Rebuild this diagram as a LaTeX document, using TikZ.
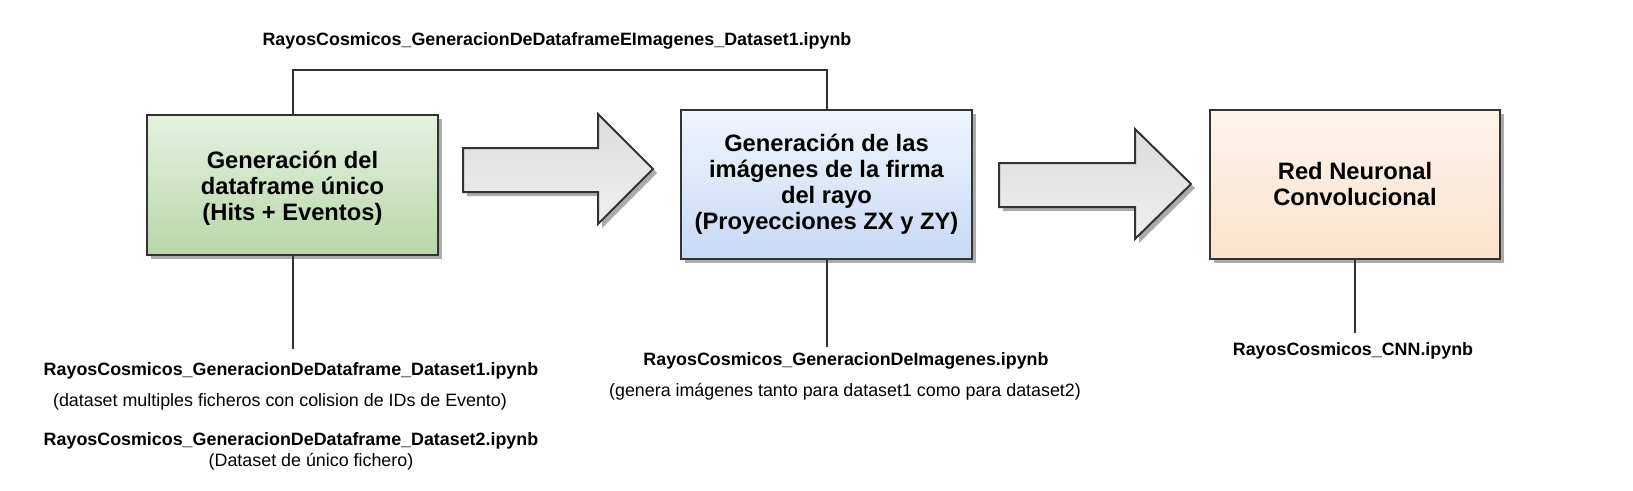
\documentclass[tikz,border=0pt]{standalone}
\usepackage{fontspec}
\setmainfont{Liberation Sans}
\usetikzlibrary{shadows}
\definecolor{ln}{HTML}{333333}
\definecolor{gTop}{HTML}{E6F1E0}
\definecolor{gBot}{HTML}{B7D7A8}
\definecolor{bTop}{HTML}{F0F5FD}
\definecolor{bBot}{HTML}{C7D9F5}
\definecolor{oTop}{HTML}{FDF4EC}
\definecolor{oBot}{HTML}{FBE2CA}
\definecolor{aTop}{HTML}{DCDCDC}
\definecolor{aBot}{HTML}{EFEFEF}
\definecolor{shd}{HTML}{ABABAB}
\begin{document}
\begin{tikzpicture}[x=0.75pt,y=-0.75pt,
  shadowed/.style={drop shadow={shadow xshift=3pt, shadow yshift=-3pt, fill=shd, opacity=1}},
  box/.style={shadowed, rectangle, draw=ln, line width=1.5pt, align=center, inner sep=0pt,
    font=\fontsize{17.8}{19.5}\selectfont\bfseries},
  greenbox/.style={box, top color=gTop, bottom color=gBot},
  bluebox/.style={box, top color=bTop, bottom color=bBot},
  orangebox/.style={box, top color=oTop, bottom color=oBot},
  bigarrow/.style={shadowed, draw=ln, line width=1.5pt, line join=miter, top color=aTop, bottom color=aBot},
  conn/.style={draw=ln, line width=1.5pt},
  fname/.style={inner sep=0pt, font=\fontsize{13.4}{16}\selectfont\bfseries},
  note/.style={inner sep=0pt, font=\fontsize{13.4}{16}\selectfont}
]
\useasboundingbox (0,0) rectangle (1633,490);

% boxes
\node[greenbox, minimum width=218.25pt, minimum height=105pt] (b1) at (292.5,185)
  {\rule{0pt}{17.5pt}Generación del\\dataframe único\\(Hits + Eventos)};
\node[bluebox, minimum width=218.25pt, minimum height=111.75pt] (b2) at (826.5,184.5)
  {Generación de las\\imágenes de la firma\\del rayo\\(Proyecciones ZX y ZY)};
\node[orangebox, minimum width=217.5pt, minimum height=111.75pt] (b3) at (1355,184.5)
  {Red Neuronal\\Convolucional};

% big arrows
\draw[bigarrow] (463,148) -- (598,148) -- (598,114) -- (653,169) -- (598,224) -- (598,192) -- (463,192) -- cycle;
\draw[bigarrow] (999,163) -- (1135,163) -- (1135,129) -- (1191,184) -- (1135,239) -- (1135,207) -- (999,207) -- cycle;

% top connector
\coordinate (tl) at (292.5,70);
\draw[conn] (b1.north) -- (b1.north |- tl) -| (b2.north);
\node[fname] (t0) at (557,41) {RayosCosmicos\_GeneracionDeDataframeEImagenes\_Dataset1.ipynb};

% bottom connectors
\coordinate (e1) at (292.5,349);
\coordinate (e2) at (826.5,347);
\coordinate (e3) at (1355,333);
\draw[conn] (b1.south) -- (e1);
\draw[conn] (b2.south) -- (e2);
\draw[conn] (b3.south) -- (e3);

% labels
\node[fname] (l1a) at (291,371) {RayosCosmicos\_GeneracionDeDataframe\_Dataset1.ipynb};
\node[note]  (l1b) at (280,402) {(dataset multiples ficheros con colision de IDs de Evento)};
\node[fname] (l1c) at (291,441) {RayosCosmicos\_GeneracionDeDataframe\_Dataset2.ipynb};
\node[note]  (l1d) at (311,462) {(Dataset de único fichero)};
\node[fname] (l2a) at (846,361) {RayosCosmicos\_GeneracionDeImagenes.ipynb};
\node[note]  (l2b) at (845,392) {(genera imágenes tanto para dataset1 como para dataset2)};
\node[fname] (l3)  at (1353,351) {RayosCosmicos\_CNN.ipynb};
\end{tikzpicture}
\end{document}
